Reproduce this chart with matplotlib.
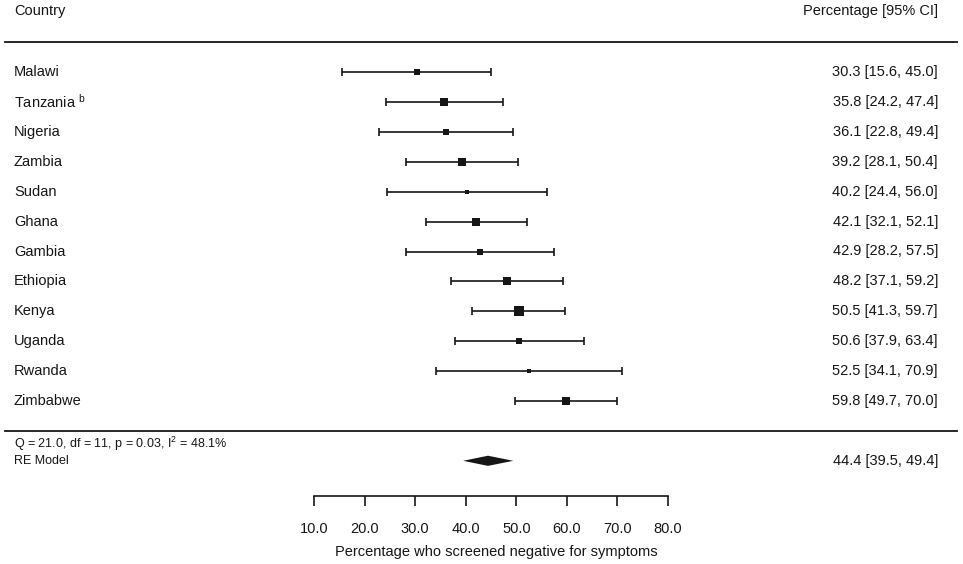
import matplotlib

matplotlib.use("Agg")
import matplotlib.pyplot as plt
import numpy as np

countries = ["Malawi", "Tanzania $^{\\mathrm{b}}$", "Nigeria", "Zambia", "Sudan", "Ghana",
             "Gambia", "Ethiopia", "Kenya", "Uganda", "Rwanda", "Zimbabwe"]
estimate = [30.3, 35.8, 36.1, 39.2, 40.2, 42.1, 42.9, 48.2, 50.5, 50.6, 52.5, 59.8]
ci_low = [15.6, 24.2, 22.8, 28.1, 24.4, 32.1, 28.2, 37.1, 41.3, 37.9, 34.1, 49.7]
ci_high = [45.0, 47.4, 49.4, 50.4, 56.0, 52.1, 57.5, 59.2, 59.7, 63.4, 70.9, 70.0]

pooled = 44.4
pooled_low = 39.5
pooled_high = 49.4
het_text = "Q = 21.0, df = 11, p = 0.03, I$^{2}$ = 48.1%"

x_ticks = [10, 20, 30, 40, 50, 60, 70, 80]

# box side in points (study weight)
box_size = [4.0, 5.6, 4.6, 5.6, 3.4, 6.4, 4.0, 5.6, 7.0, 4.8, 2.4, 6.4]

plt.rcParams["font.family"] = ["Liberation Sans", "DejaVu Sans"]
plt.rcParams["mathtext.fontset"] = "custom"
plt.rcParams["mathtext.rm"] = "Liberation Sans"
plt.rcParams["mathtext.it"] = "Liberation Sans:italic"

ink = "#161616"

fig = plt.figure(figsize=(9.63, 5.64), dpi=100)
ax = fig.add_axes([0, 1 - 496 / 564, 1, 496 / 564])

rows = np.arange(len(countries), 0, -1)

for y, est, lo, hi, size in zip(rows, estimate, ci_low, ci_high, box_size):
    ax.errorbar(est, y, xerr=[[est - lo], [hi - est]], fmt="none", ecolor=ink,
                elinewidth=1.2, capsize=3, capthick=1.2)
    ax.plot(est, y, marker="s", markersize=size, color=ink, markeredgewidth=0)

# pooled estimate diamond
h = 0.17
ax.fill([pooled_low, pooled, pooled_high, pooled], [-1, -1 + h, -1, -1 - h], color=ink, lw=0)

trans = ax.get_yaxis_transform()
for y, name, est, lo, hi in zip(rows, countries, estimate, ci_low, ci_high):
    ax.text(0.0145, y, name, transform=trans, ha="left", va="center", fontsize=10.5, color=ink)
    ax.text(0.974, y, f"{est:.1f} [{lo:.1f}, {hi:.1f}]", transform=trans,
            ha="right", va="center", fontsize=10.5, color=ink)

ax.text(0.0145, 14.03, "Country", transform=trans, ha="left", va="center", fontsize=10.5, color=ink)
ax.text(0.974, 14.03, "Percentage [95% CI]", transform=trans, ha="right", va="center",
        fontsize=10.5, color=ink)
ax.text(0.0145, -0.42, het_text, transform=trans, ha="left", va="center", fontsize=9, color=ink)
ax.text(0.0145, -1, "RE Model", transform=trans, ha="left", va="center", fontsize=9, color=ink)
ax.text(0.974, -1, f"{pooled:.1f} [{pooled_low:.1f}, {pooled_high:.1f}]", transform=trans,
        ha="right", va="center", fontsize=10.5, color=ink)

for yl in (13.0, 0.0):
    ax.plot([0.0052, 0.9938], [yl, yl], transform=trans, color=ink, lw=1.3, clip_on=False)

ax.set_xlim(10 - 314 / 5.057, 10 - 314 / 5.057 + 963 / 5.057)
ax.set_ylim(1 - 95 / 29.9, 1 + 401 / 29.9)

for side in ("top", "left", "right"):
    ax.spines[side].set_visible(False)
ax.spines["bottom"].set_bounds(x_ticks[0], x_ticks[-1])
ax.spines["bottom"].set_linewidth(1.2)
ax.spines["bottom"].set_color(ink)
ax.set_yticks([])
ax.set_xticks(x_ticks)
ax.set_xticklabels([f"{t:.1f}" for t in x_ticks])
ax.tick_params(axis="x", direction="out", length=7.5, width=1.2, color=ink,
               pad=11, labelsize=10.5, labelcolor=ink)
ax.set_xlabel("Percentage who screened negative for symptoms", fontsize=10.5, color=ink, labelpad=7)
ax.xaxis.label.set_x(0.515)
ax.patch.set_visible(False)

fig.savefig("out.png", dpi=100)
plt.close(fig)
